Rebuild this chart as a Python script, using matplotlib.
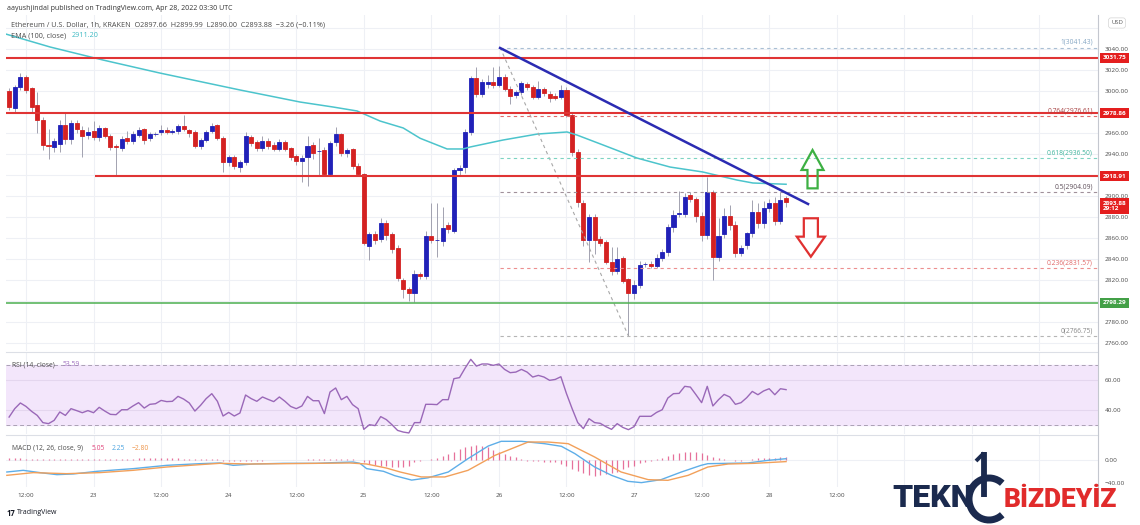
import numpy as np
import matplotlib.pyplot as plt
from matplotlib.patches import Polygon, Arc
import matplotlib.transforms as mtrans

plt.rcParams['font.family'] = ['Open Sans', 'DejaVu Sans']

# ETH/USD 1h candles (Kraken). hours are counted from Apr 22 00:00 UTC,
# first candle is Apr 22 09:00, last one Apr 28 03:00
first_hour = 9

opens = [3000, 2984, 3003.5, 3013, 3002.5, 2987, 2972.4, 2948.5, 2947, 2950,
         2968, 2954.3, 2970, 2963, 2958, 2962, 2956, 2964.4, 2957.5, 2947.5,
         2946, 2955.5, 2952.7, 2958.5, 2963.5, 2955, 2959, 2961.2, 2962.8, 2961.2,
         2962, 2967, 2962.5, 2961, 2948, 2953.3, 2962, 2968, 2955.5, 2932,
         2937, 2927.6, 2932, 2956.5, 2951, 2945.4, 2952.7, 2948.9, 2945, 2951.4,
         2945.4, 2938.4, 2933, 2936.8, 2948.5, 2942.8, 2944, 2921.3, 2951, 2958.7,
         2940.6, 2944.4, 2928.9, 2920.6, 2852.7, 2864, 2858.7, 2874.6, 2864, 2850.8,
         2820, 2811, 2808, 2825.7, 2823.8, 2861.9, 2858, 2857, 2872, 2867,
         2924.7, 2927.3, 2961.2, 3012, 2996.8, 3007, 3009, 3006, 3013.6, 3002.2,
         2995.8, 2998.7, 3006.6, 3003.5, 2994.6, 3001.6, 2996.8, 2995, 2994.6, 3001,
         2977, 2941.6, 2893, 2858.1, 2880.4, 2859, 2856.5, 2836.9, 2828.6, 2840.7,
         2820.7, 2808, 2815.3, 2835, 2835, 2833.7, 2840.7, 2846.4, 2870.2, 2883.2,
         2883.2, 2901, 2896.9, 2881.3, 2862.9, 2904.2, 2842.3, 2863.8, 2881, 2872.4,
         2845.4, 2853.4, 2864.5, 2885.1, 2874, 2888.3, 2893, 2876.5, 2897.66]

highs = [3002.5, 3005.7, 3016.8, 3015, 3004, 2999, 2975, 2964, 2955, 2972,
         2980, 2972, 2972, 2967, 2966, 2971, 2968, 2966, 2959, 2950,
         2957, 2962, 2962, 2966, 2965, 2961, 2961, 2968, 2966, 2964,
         2969, 2977, 2964, 2963, 2955, 2963, 2970, 2969, 2957, 2939,
         2939, 2934, 2961, 2958, 2953, 2957, 2955, 2951, 2954, 2953,
         2947, 2940, 2939, 2957, 2951, 2955, 2947, 2952, 2966, 2960,
         2946, 2946, 2931, 2922, 2866, 2867, 2879, 2877, 2866, 2853,
         2822, 2813, 2830, 2828, 2867, 2893, 2893, 2890, 2875, 2927,
         2930, 2964, 3014, 3023, 3011, 3015, 3023, 3024, 3016, 3005,
         3001, 3010, 3009, 3006, 3010, 3004, 3000, 2998, 3006, 3004,
         2980, 2945, 2896, 2883, 2883, 2862, 2858, 2851, 2851, 2843,
         2822, 2820, 2838, 2837, 2838, 2845, 2850, 2873, 2887, 2905,
         2903, 2904, 2899, 2885, 2918, 2906, 2879, 2889, 2891, 2876,
         2853, 2866, 2896, 2893, 2895, 2897, 2899, 2904, 2899.99]

lows = [2982, 2979.3, 3001, 2998, 2980.3, 2959.6, 2943.8, 2935, 2942, 2942,
        2950, 2950, 2960, 2937.5, 2954, 2953, 2952, 2955, 2944, 2919,
        2943, 2950, 2950, 2956, 2950, 2952, 2957, 2958, 2959, 2959,
        2959, 2962, 2956, 2946, 2945, 2951, 2960, 2953, 2923, 2929,
        2926, 2923, 2930, 2948, 2943, 2943, 2945, 2943, 2943, 2943,
        2934, 2930, 2913.6, 2909.5, 2935, 2920, 2919, 2919, 2948, 2938,
        2937, 2926, 2919, 2853, 2839, 2854, 2856, 2858, 2846, 2819,
        2803, 2800, 2799, 2821, 2821, 2855, 2842, 2852, 2865, 2865,
        2920, 2922, 2958, 2994, 2994, 3003, 3003, 3004, 3000, 2988,
        2993, 2996, 3001, 2992, 2992, 2995, 2990, 2991, 2992, 2975,
        2938, 2890, 2852, 2837, 2845, 2852, 2835, 2825, 2826, 2817,
        2766.8, 2802, 2812, 2832, 2831, 2831, 2838, 2843, 2866, 2880,
        2880, 2894, 2875, 2857, 2859, 2820, 2838, 2860, 2868, 2842,
        2843, 2850, 2861, 2870, 2870, 2885, 2872, 2873, 2890]

closes = [2985, 3003.5, 3013, 3001, 2985, 2972.4, 2949, 2947.6, 2952.4, 2968,
          2954.6, 2969.8, 2964, 2957.5, 2961, 2956, 2964.4, 2957.5, 2947, 2946.5,
          2954.3, 2952.7, 2959, 2963.2, 2953, 2959, 2959.5, 2963.3, 2961.2, 2962,
          2967, 2964, 2959.6, 2948, 2953.3, 2961, 2967, 2955.5, 2932, 2937,
          2928.5, 2932, 2956.8, 2950.8, 2945.4, 2952, 2947.6, 2945, 2951.4, 2945,
          2936.8, 2933, 2935.8, 2947.6, 2941.2, 2942.8, 2921.3, 2950.5, 2958.7, 2940.6,
          2943.8, 2928.9, 2921.3, 2855.5, 2864, 2858, 2874.6, 2862.8, 2850, 2821.6,
          2811, 2808, 2825.4, 2823.8, 2861.9, 2858, 2858.5, 2869.8, 2868.5, 2924.7,
          2926.3, 2961.2, 3012, 2996.8, 3008.2, 3009, 3006, 3013.6, 3002.2, 2995.5,
          2998.7, 3007.9, 3003.5, 2994.6, 3001.6, 2998.4, 2993, 2993, 3001, 2977.1,
          2941.6, 2894.6, 2858, 2880.4, 2858.1, 2855.6, 2836.9, 2828.6, 2839.7, 2819.4,
          2808, 2815.3, 2834.3, 2835.3, 2833.7, 2841.3, 2846.4, 2870.2, 2882.3, 2883.8,
          2899.4, 2896.9, 2881.3, 2862.9, 2904.2, 2842.3, 2862, 2881, 2872.4, 2845.4,
          2850.2, 2864.5, 2885.1, 2874, 2888.3, 2893, 2876.5, 2896.2, 2893.88]

rsi = [35.3, 40.9, 44.7, 42.4, 39.1, 36.4, 31.6, 30.9, 33.1, 38.7,
       36.4, 40.9, 39.6, 38.2, 39.6, 38.2, 41.8, 39.3, 37.1, 36.9,
       40.2, 40.2, 42.7, 44.9, 41.3, 43.8, 44.2, 46.4, 45.6, 45.8,
       49.1, 47.3, 44.7, 39.3, 43.1, 47.6, 50.9, 45.8, 36.0, 38.4,
       36.0, 38.0, 50.0, 47.6, 45.8, 48.7, 47.1, 45.6, 48.7, 45.8,
       42.4, 40.9, 42.7, 49.1, 46.2, 46.2, 37.6, 52.0, 54.7, 46.9,
       49.1, 43.6, 40.9, 27.1, 30.2, 29.6, 35.6, 33.6, 30.2, 26.4,
       25.3, 24.7, 31.6, 31.6, 43.8, 43.8, 43.6, 46.9, 46.9, 60.9,
       61.6, 68.0, 73.8, 69.3, 70.7, 70.7, 69.8, 70.7, 67.1, 64.9,
       65.3, 67.1, 65.3, 62.0, 63.1, 62.0, 59.8, 60.4, 62.2, 50.9,
       40.9, 31.6, 27.6, 34.2, 31.6, 31.1, 28.9, 27.1, 30.9, 28.4,
       26.9, 28.9, 35.8, 35.8, 35.8, 38.4, 40.2, 48.0, 50.9, 51.1,
       55.8, 55.3, 50.2, 44.9, 55.8, 42.7, 46.9, 50.4, 48.7, 43.8,
       44.9, 48.2, 52.4, 50.2, 52.7, 54.2, 50.2, 54.2, 53.59]

macd_hist = [3, 3, 3, 2.5, 2, 2,
             1.5, 1.5, 1, 1, 1.5, 1.5, 1.5, 1.5, 1.5, 1.5, 2, 2, 2, 2,
             2.5, 2.5, 2.5, 3, 3, 3, 3, 3, 3, 3, 3, 2.5, 2.5, 2, 2, 1.5, 1.5, 1,
             -1, -1.5, -2, -2, -1.5, -1, -1, -1, -0.5, -0.5, 0.5, 0.5,
             0.5, 0.5, 0.5, 1, 1.5, 1.5, 1, 1.5, 2, 2, 2, 1.5, 0.5,
             -4, -7, -9, -10, -11, -12,
             -12.8, -12.8, -10, -4, -1.7, 0, 1.7, 2.9, 6.4, 10.4,
             14.5, 19.1, 22, 24.9, 26, 23.8, 22, 17.9, 13.3, 10.4,
             7.5, 4.6, 1.7, -1.2, -1.7, -2.3, -2.9, -2.9, -4, -7,
             -11, -15.6, -18.5, -22.6, -26, -27.3, -26, -24.9, -23.2, -20.3,
             -15.6, -12.8, -9.9, -5.8, -2.9, -1.2, 1.7, 4, 7.5, 10.4,
             12.2, 13.3, 14.5, 13.3, 11.6, 8.7, 4.6, 2.9, 1.7, 0.6,
             -1.2, -1.7, -0.6, 1.7, 2.9, 2.9, 4, 4, 4.6, 5.05]

macd_hours = [8.6, 11.5, 14.5, 17.5, 20.4, 24.6, 31.1, 37.0, 42.9, 46.5,
              48.8, 52.4, 57.7, 63.6, 66.6, 70.1, 71.3, 72.5, 75.5, 77.5,
              80.5, 83.4, 87.0, 90.5, 94.1, 96.4, 100.0, 104.1, 107.1, 109.5,
              113.0, 116.0, 118.9, 121.3, 124.8, 128.4, 131.9, 133.1, 136.7, 140.2,
              143.8, 147.0]
macd_vals = [-20.9, -18.0, -22.0, -25.5, -24.3, -19.7, -15.0, -9.3, -6.4, -5.2,
             -9.3, -7.0, -5.8, -5.8, -4.6, -3.5, -5.8, -15.0, -19.7, -27.3,
             -35.0, -31.0, -20.9, 2.3, 24.3, 32.5, 32.5, 28.4, 23.8, 11.0,
             -12.2, -26.7, -37.1, -39.4, -34.2, -20.9, -9.3, -6.4, -5.8, -5.2,
             -0.6, 2.25]

signal_hours = [8.6, 13.3, 19.2, 25.1, 31.0, 37.0, 42.9, 46.4, 51.8, 57.7,
                63.6, 69.5, 72.5, 76.0, 78.5, 82.2, 86.4, 90.5, 95.3, 101.2,
                104.7, 108.3, 113.0, 117.7, 122.5, 126.0, 129.6, 133.1, 136.7, 141.4,
                147.0]
signal_vals = [-26.7, -22.0, -23.8, -22.0, -18.0, -12.2, -8.1, -5.8, -7.0, -6.4,
               -5.8, -5.2, -7.0, -14.0, -21.0, -29.5, -29.5, -18.0, 8.1, 31.3,
               31.3, 28.4, 5.2, -20.9, -34.2, -35.4, -26.7, -12.2, -7.0, -5.8,
               -2.8]

ema_hours = [8.4, 16.3, 25.7, 35.8, 50.0, 60.7, 66.5, 70.8, 74.9, 79.0,
             82.0, 86.8, 89.6, 90.9, 96.7, 102.8, 108.1, 109.9, 114.5, 120.5,
             126.4, 132.2, 138.3, 141.1, 147.0]
ema_vals = [3054.3, 3041.9, 3029.5, 3017.1, 3001.0, 2989.5, 2984.8, 2981.0, 2971.4, 2964.8,
            2955.0, 2944.8, 2944.8, 2946.7, 2953.3, 2959.0, 2961.0, 2958.0, 2948.6, 2936.2,
            2927.6, 2922.9, 2915.2, 2912.4, 2911.2]

red_levels = [3031.75, 2978.86, 2918.91]
red_starts = [8.45, 8.45, 24.3]
green_level = 2798.29
last_close = 2893.88

fib_ratio = ['1', '0.764', '0.618', '0.5', '0.236', '0']
fib_price = [3041.43, 2976.61, 2936.50, 2904.09, 2831.57, 2766.75]
fib_line_col = ['#a9bfd4', '#e06a6a', '#7dd3c2', '#a0909a', '#ec8f8f', '#b5b5b5']
fib_text_col = ['#86a7c4', '#a84545', '#3fb49c', '#5e4f5a', '#e06868', '#888888']

trend_hours = [96.2, 150.9]
trend_prices = [3041.0, 2892.4]
swing_hours = [96.2, 119.0]
swing_prices = [3041.43, 2766.75]

time_ticks = [12, 24, 36, 48, 60, 72, 84, 96, 108, 120, 132, 144, 156]
time_labels = ['12:00', '23', '12:00', '24', '12:00', '25', '12:00', '26',
               '12:00', '27', '12:00', '28', '12:00']

# ---------------------------------------------------------------- layout
W, H = 1140, 525
X0, X1 = 8.45, 202.4


def box(left, top, right, bottom):
    return [left / W, 1 - bottom / H, (right - left) / W, (bottom - top) / H]


fig = plt.figure(figsize=(11.4, 5.25), dpi=100)
ax = fig.add_axes(box(6, 15, 1098, 351))
ax_rsi = fig.add_axes(box(6, 352, 1098, 434))
ax_macd = fig.add_axes(box(6, 435, 1098, 487))

grid_col = '#eef0f5'
txt_col = '#4a4a4a'
for a in (ax, ax_rsi, ax_macd):
    a.set_xlim(X0, X1)
    for s in a.spines.values():
        s.set_visible(False)
    a.yaxis.tick_right()
    a.tick_params(axis='y', length=0, pad=5, labelsize=4.6, labelcolor=txt_col)
    a.tick_params(axis='x', length=0, labelbottom=False)
    for t in range(12, 200, 12):
        a.axvline(t, color=grid_col, lw=0.8, zorder=0)
for a in (ax_rsi, ax_macd):
    a.spines['top'].set_visible(True)
    a.spines['top'].set_color('#dcdfe6')
    a.spines['top'].set_linewidth(0.8)

# ---------------------------------------------------------------- price panel
hours = np.arange(len(closes)) + first_hour
o = np.array(opens)
c = np.array(closes)

ax.set_ylim(2752.4, 3072.4)
price_ticks = np.arange(2760, 3041, 20)
# labels under the coloured level tags are hidden on the chart
hidden = (2980, 2920, 2800)
ax.set_yticks(price_ticks)
ax.set_yticklabels(['' if p in hidden else f'{p:.2f}' for p in price_ticks])
for p in list(price_ticks) + [3060]:
    ax.axhline(p, color=grid_col, lw=0.8, zorder=0)

cols = np.where(c >= o, '#2121b8', '#d42222')
ax.vlines(hours, lows, highs, color='#a2a2b0', lw=0.7, zorder=2)
ax.bar(hours, np.abs(c - o), 0.72, bottom=np.minimum(o, c), color=cols,
       edgecolor=cols, linewidth=0.6, zorder=3)

ax.plot(ema_hours, ema_vals, color='#4cc4cc', lw=1.1, zorder=4)

for lvl, x_start in zip(red_levels, red_starts):
    ax.hlines(lvl, x_start, X1, color='#e03434', lw=1.5, zorder=5)
ax.hlines(green_level, X0, X1, color='#4caf50', lw=1.1, zorder=5)

# fib retracement
ax.plot(swing_hours, swing_prices, color='#a8a8a8', lw=0.8, ls=(0, (3, 3)), zorder=4)
for r, p, lc, tc in zip(fib_ratio, fib_price, fib_line_col, fib_text_col):
    ax.hlines(p, swing_hours[0], X1, color=lc, lw=0.8, linestyles=[(0, (3, 3))], zorder=4)
    ax.text(201.5, p + 1.5, f'{r}({p:.2f})', color=tc, fontsize=4.8,
            ha='right', va='bottom', zorder=6)

# trend line
ax.plot(trend_hours, trend_prices, color='#2b2bb2', lw=1.8, zorder=6)

# arrows
up_arrow = Polygon([(151.7, 2943.8), (153.65, 2924.8), (152.6, 2924.8), (152.6, 2907.3),
                    (150.8, 2907.3), (150.8, 2924.8), (149.75, 2924.8)],
                   closed=True, fill=False, ec='#3db043', lw=1.6, zorder=7)
down_arrow = Polygon([(151.4, 2842.2), (153.9, 2861.3), (152.65, 2861.3), (152.65, 2878.8),
                      (150.15, 2878.8), (150.15, 2861.3), (148.9, 2861.3)],
                     closed=True, fill=False, ec='#e03030', lw=1.6, zorder=7)
ax.add_patch(up_arrow)
ax.add_patch(down_arrow)

# price tags on the scale
tag_tr = mtrans.blended_transform_factory(ax.transAxes, ax.transData)
for lvl in red_levels:
    ax.text(1.004, lvl, f'{lvl:.2f}', transform=tag_tr, ha='left', va='center',
            fontsize=4.6, color='white', fontweight='bold', clip_on=False, zorder=10,
            bbox=dict(boxstyle='square,pad=0.4', fc='#e41e1e', ec='none'))
ax.text(1.004, green_level, f'{green_level:.2f}', transform=tag_tr, ha='left', va='center',
        fontsize=4.6, color='white', fontweight='bold', clip_on=False, zorder=10,
        bbox=dict(boxstyle='square,pad=0.4', fc='#43a047', ec='none'))
ax.text(1.004, last_close - 3.5, f'{last_close:.2f}\n29:12', transform=tag_tr, ha='left',
        va='center', fontsize=4.6, color='white', fontweight='bold', clip_on=False,
        linespacing=1.1, zorder=10,
        bbox=dict(boxstyle='square,pad=0.4', fc='#e41e1e', ec='none'))

# ---------------------------------------------------------------- RSI panel
ax_rsi.set_ylim(24, 78.7)
ax_rsi.axhspan(30, 70, color='#f3e6fb', zorder=0)
for lv in (40, 60):
    ax_rsi.axhline(lv, color='#e4d6ee', lw=0.8, zorder=1)
for lv in (30, 70):
    ax_rsi.axhline(lv, color='#aaa0b4', lw=0.7, ls=(0, (4, 3)), zorder=1)
ax_rsi.plot(hours, rsi, color='#9a68b8', lw=1.0, zorder=3)
ax_rsi.set_yticks([40, 60])
ax_rsi.set_yticklabels(['40.00', '60.00'])

# ---------------------------------------------------------------- MACD panel
ax_macd.set_ylim(-47, 43.5)
ax_macd.axhline(0, color=grid_col, lw=0.8, zorder=0)
ax_macd.vlines(hours, 0, macd_hist, color='#e2588a', lw=0.9, alpha=0.85, zorder=2)
ax_macd.plot(macd_hours, macd_vals, color='#5eaee8', lw=1.0, zorder=3)
ax_macd.plot(signal_hours, signal_vals, color='#f2a05a', lw=1.0, zorder=3)
ax_macd.set_yticks([0, -40])
ax_macd.set_yticklabels(['0.00', '\u221240.00'])
ax_macd.set_xticks(time_ticks)
ax_macd.set_xticklabels(time_labels)
ax_macd.tick_params(axis='x', labelbottom=True, pad=4, labelsize=4.6, labelcolor=txt_col)

# ---------------------------------------------------------------- overlay texts (pixel coords)
ov = fig.add_axes([0, 0, 1, 1])
ov.set_xlim(0, W)
ov.set_ylim(H, 0)
ov.axis('off')
ov.patch.set_alpha(0)

ov.plot([1098, 1098], [15, 505], color='#c4c7cf', lw=0.8)
ov.text(7, 9, 'aayushjindal published on TradingView.com, Apr 28, 2022 03:30 UTC',
        fontsize=5, color='#333333', va='center')
ov.text(11, 25.5, 'Ethereum / U.S. Dollar, 1h, KRAKEN  O2897.66  H2899.99  L2890.00  '
        'C2893.88  \u22123.26 (\u22120.11%)', fontsize=5.2, color=txt_col, va='center')
ov.text(11, 35.7, 'EMA (100, close)', fontsize=5.2, color=txt_col, va='center')
ov.text(72, 35.7, '2911.20', fontsize=5.2, color='#3bb9c2', va='center')
ov.text(1117, 23, 'USD', fontsize=4.2, color='#555555', ha='center', va='center',
        bbox=dict(boxstyle='round,pad=0.45', fc='white', ec='#d4d4d4', lw=0.5))

ov.text(11.7, 364.7, 'RSI (14, close)', fontsize=4.9, color=txt_col, va='center')
ov.text(62.7, 364.7, '53.59', fontsize=4.9, color='#a070c0', va='center')
ov.text(11.7, 448, 'MACD (12, 26, close, 9)', fontsize=4.9, color=txt_col, va='center')
ov.text(91.7, 448, '5.05', fontsize=4.9, color='#e0457b', va='center')
ov.text(111.7, 448, '2.25', fontsize=4.9, color='#4aa3e0', va='center')
ov.text(131.7, 448, '\u22122.80', fontsize=4.9, color='#ee9448', va='center')

ov.text(7, 513, '17', fontsize=5.5, color='#131722', fontweight='bold', va='center')
ov.text(17, 513, 'TradingView', fontsize=5, color='#131722', va='center')

# watermark
navy = '#1b2a4e'
ov.text(892, 498, 'TEKN', fontsize=23, fontweight='heavy', color=navy,
        family='Roboto', va='center', ha='left')
ov.plot([984, 984], [452, 497], color=navy, lw=4.2, solid_capstyle='butt')
ov.plot([984, 976], [453, 461], color=navy, lw=2.8, solid_capstyle='butt')
ov.add_patch(Arc((989, 499), 40, 42, theta1=50, theta2=310, lw=5, color=navy))
ov.text(1004, 500, 'B\u0130ZDEY\u0130Z', fontsize=19, fontweight='heavy', color='#e12b2b',
        family='Roboto', va='center', ha='left')

fig.savefig('out.png', dpi=100, facecolor='white')
